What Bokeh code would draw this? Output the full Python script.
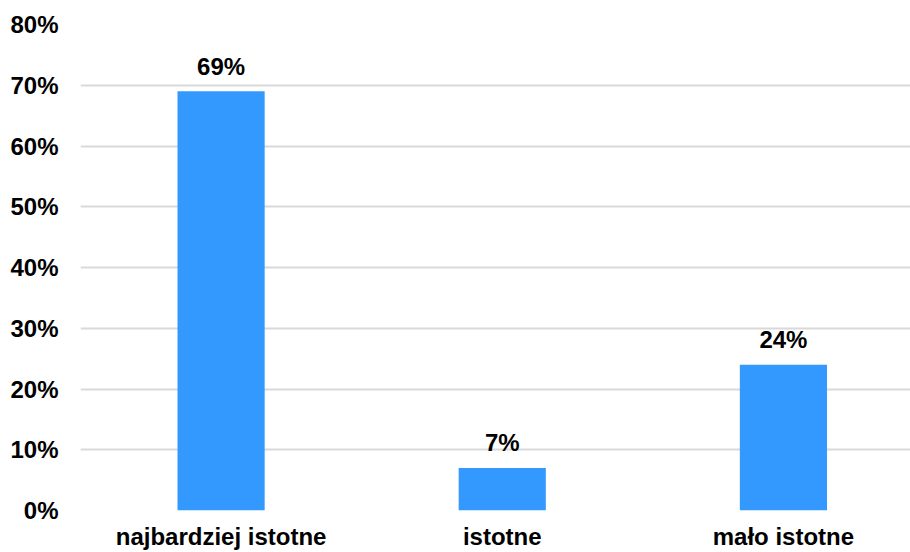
from bokeh.plotting import figure
from bokeh.models import Range1d, FixedTicker, PrintfTickFormatter, ColumnDataSource
from bokeh.core.properties import value
from bokeh.embed import file_html
from bokeh.resources import INLINE

categories = ["najbardziej istotne", "istotne", "mało istotne"]
values = [69, 7, 24]
y_ticks = [0, 10, 20, 30, 40, 50, 60, 70, 80]

FONT = "Liberation Sans"
BAR = "#3399FF"
TXT = "#000000"

xs = list(range(len(categories)))
src = ColumnDataSource(dict(x=xs, v=values, lbl=[f"{v}%" for v in values]))

p = figure(width=910, height=552, output_backend="svg", toolbar_location=None,
           x_range=Range1d(-0.5, 2.452), y_range=Range1d(0, 80),
           min_border_left=80, min_border_right=0, min_border_top=24, min_border_bottom=41)
p.outline_line_color = None
p.background_fill_color = "white"
p.border_fill_color = "white"

p.vbar(x="x", top="v", width=0.31, bottom=0, source=src, color=BAR, line_color=None)
p.text(x="x", y="v", text="lbl", source=src, text_align="center", text_baseline="alphabetic",
       y_offset=-25, text_font=value(FONT), text_font_style="bold", text_font_size="24px",
       text_color=TXT)

# y axis
p.yaxis.ticker = FixedTicker(ticks=y_ticks)
p.yaxis.formatter = PrintfTickFormatter(format="%d%%")
p.yaxis.axis_line_color = None
p.yaxis.major_tick_line_color = None
p.yaxis.minor_tick_line_color = None
p.yaxis.major_tick_out = 0
p.yaxis.major_tick_in = 0
p.yaxis.major_label_standoff = 22
p.yaxis.major_label_text_font = FONT
p.yaxis.major_label_text_font_style = "bold"
p.yaxis.major_label_text_font_size = "24px"
p.yaxis.major_label_text_color = TXT

# x axis
p.xaxis.ticker = FixedTicker(ticks=xs)
p.xaxis.major_label_overrides = {i: c for i, c in zip(xs, categories)}
p.xaxis.axis_line_color = None
p.xaxis.major_tick_line_color = None
p.xaxis.minor_tick_line_color = None
p.xaxis.major_tick_out = 0
p.xaxis.major_tick_in = 0
p.xaxis.major_label_standoff = 12
p.xaxis.major_label_text_font = FONT
p.xaxis.major_label_text_font_style = "bold"
p.xaxis.major_label_text_font_size = "24px"
p.xaxis.major_label_text_color = TXT

p.xgrid.grid_line_color = None
p.ygrid.ticker = FixedTicker(ticks=y_ticks)
p.ygrid.grid_line_color = "#d9d9d9"
p.ygrid.grid_line_width = 2

open("out.html", "w").write(file_html(p, INLINE))
